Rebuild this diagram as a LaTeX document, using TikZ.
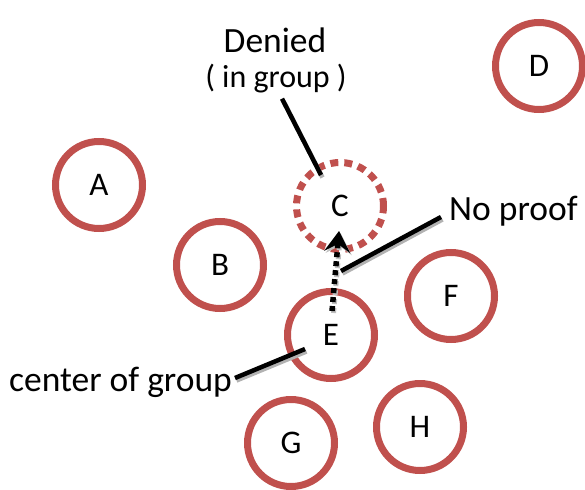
\documentclass[tikz,border=0pt]{standalone}
\usepackage{fontspec}
\setmainfont{Carlito}
\usepackage{tikz}
\usetikzlibrary{arrows.meta,positioning}
\definecolor{peerred}{HTML}{C0504D}

\tikzset{
  peer/.style={circle, draw=peerred, line width=7pt, minimum size=87pt, inner sep=0pt,
    font=\fontsize{33}{37}\selectfont},
  denied/.style={peer, dash pattern=on 8pt off 6pt},
  note/.style={font=\fontsize{35.5}{40}\selectfont, inner sep=1pt},
  pointer/.style={line width=4.5pt,
    preaction={draw=black!30, line width=4.5pt, transform canvas={shift={(1.5pt,-2.5pt)}}}},
}

\begin{document}
\begin{tikzpicture}[x=1pt,y=-1pt]
\useasboundingbox (0,0) rectangle (585,489);

% the group members
\node[peer] (A) at (99,185) {A};
\node[peer] (B) at (220,265) {B};
\node[denied] (C) at (340,206) {C};
\node[peer] (D) at (539,66) {D};
\node[peer] (E) at (331,335) {E};
\node[peer] (F) at (451,296) {F};
\node[peer] (G) at (291,443) {G};
\node[peer] (H) at (420,427) {H};

% labels
\node[note] (deny) at (275,40) {Denied};
\node[note, font=\fontsize{32}{36}\selectfont] (ingroup) at (276,79) {( in group )};
\node[note, anchor=west] (noproof) at (448,211) {No proof};
\node[note, anchor=east] (centre) at (233,382) {center of group};

\coordinate (denyend) at (321,175);
\coordinate (proofend) at (341,271);
\coordinate (centreend) at (305,349);
\coordinate (etop) at (332,311);
\coordinate (ctip) at (339,231);

% pointers
\draw[pointer] (ingroup.south) ++(6,4) -- (denyend);
\draw[pointer] (noproof.west) ++(-7,6) -- (proofend);
\draw[pointer] (centre.east) ++(2,-4) -- (centreend);

% request from E to C
\draw[line width=5.5pt, dash pattern=on 5pt off 4pt,
  preaction={draw=black!25, line width=5pt, dash pattern=on 5pt off 4pt,
    transform canvas={shift={(1.5pt,-2pt)}}},
  -{Stealth[length=21pt,width=26pt,inset=8pt]}]
  (etop) -- (ctip);
\end{tikzpicture}
\end{document}
